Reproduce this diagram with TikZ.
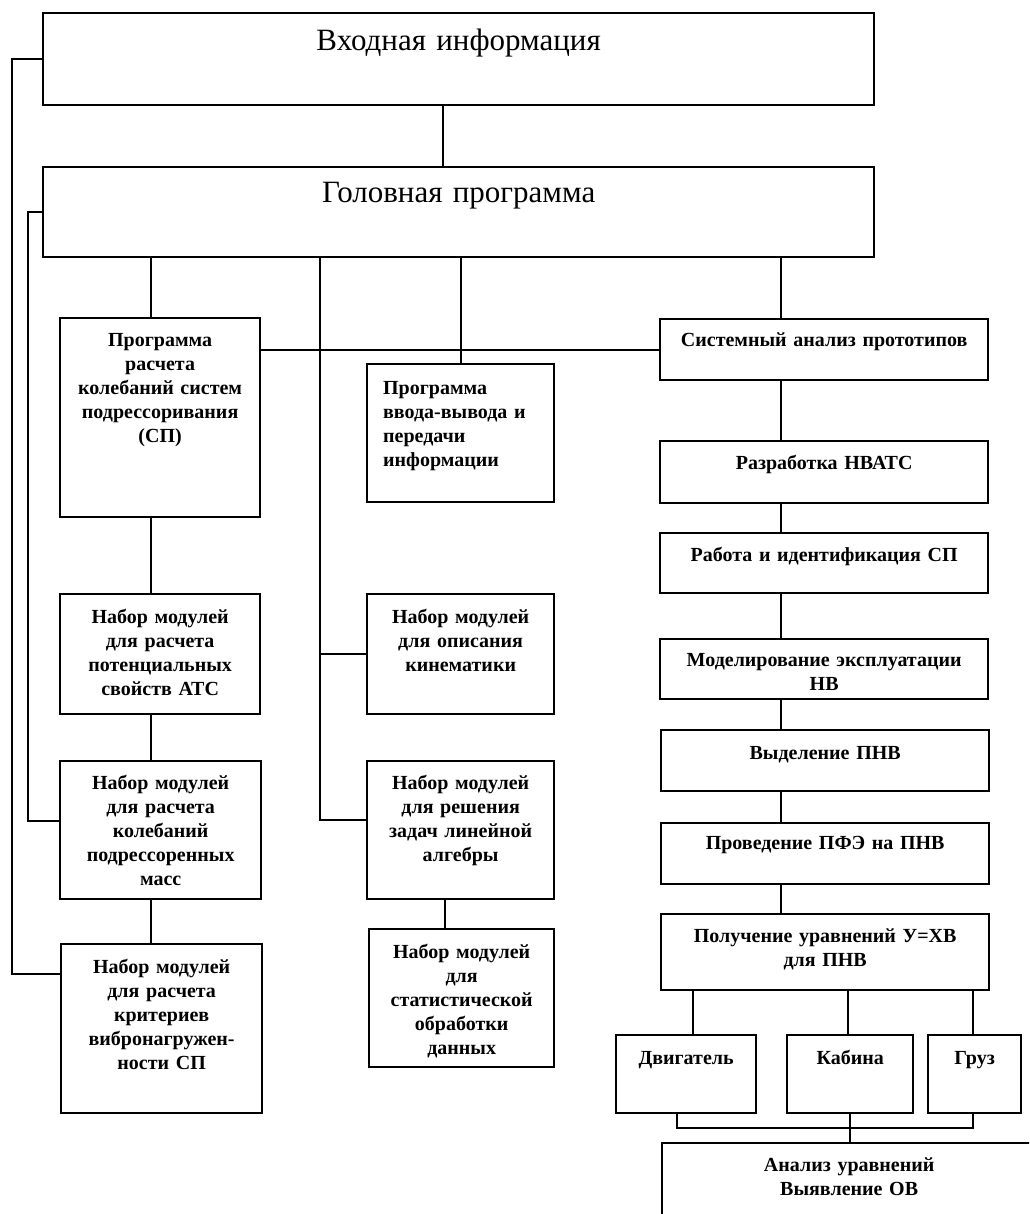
\documentclass[tikz,border=0pt]{standalone}
\usepackage{fontspec}
\setmainfont{Liberation Serif}
\usetikzlibrary{calc}

\tikzset{
  blk/.style={draw, line width=2.3pt, inner sep=0pt, anchor=north west, align=center,
    font=\bfseries\fontsize{20}{24}\selectfont},
  big/.style={blk, font=\fontsize{31}{36}\selectfont},
  wire/.style={line width=1.9pt}
}

\begin{document}
\begin{tikzpicture}[x=1pt,y=-1pt]
\useasboundingbox (0,0) rectangle (1029,1214);
\clip (0,0) rectangle (1029,1214);
% column lines
\coordinate (cI) at (443,0);
\coordinate (cA) at (151,0);
\coordinate (cB) at (320,0);
\coordinate (cM) at (445,0);
\coordinate (cD) at (781,0);
\coordinate (cE) at (693,0);
\coordinate (cK) at (848,0);
\coordinate (cL) at (973,0);
\coordinate (cF) at (677,0);

\node[big, text width=831pt, text height=37pt, text depth=55pt] (inp) at (42,12) {Входная информация};
\node[big, text width=831pt, text height=35pt, text depth=55pt] (head) at (42,166) {Головная программа};

% left column
\node[blk, text width=200pt, text height=28pt, text depth=171pt] (prog) at (59,317)
  {Программа\\расчета\\колебаний систем\\подрессоривания\\(СП)};
\node[blk, text width=200pt, text height=29pt, text depth=91pt] (pot) at (59,593)
  {Набор модулей\\для расчета\\потенциальных\\свойств АТС};
\node[blk, text width=201pt, text height=28pt, text depth=110pt] (mass) at (59,760)
  {Набор модулей\\для расчета\\колебаний\\подрессоренных\\масс};
\node[blk, text width=201pt, text height=29pt, text depth=140pt] (crit) at (60,943)
  {Набор модулей\\для расчета\\критериев\\вибронагружен-\\ности СП};

% middle column
\node[blk, align=left, inner xsep=16pt, text width=155pt, text height=30pt, text depth=108pt] (io) at (366,363)
  {Программа\\ввода-вывода и\\передачи\\информации};
\node[blk, text width=187pt, text height=29pt, text depth=91pt] (kin) at (366,593)
  {Набор модулей\\для описания\\кинематики};
\node[blk, text width=187pt, text height=28pt, text depth=110pt] (lin) at (366,760)
  {Набор модулей\\для решения\\задач линейной\\алгебры};
\node[blk, text width=185pt, text height=29pt, text depth=109pt] (stat) at (368,928)
  {Набор модулей\\для\\статистической\\обработки\\данных};

% right column
\node[blk, text width=328pt, text height=27pt, text depth=34pt] (sys) at (659,318) {Системный анализ прототипов};
\node[blk, text width=328pt, text height=28pt, text depth=34pt] (dev) at (659,440) {Разработка НВАТС};
\node[blk, text width=328pt, text height=28pt, text depth=32pt] (work) at (659,532) {Работа и идентификация СП};
\node[blk, text width=328pt, text height=27pt, text depth=33pt] (mod) at (659,638) {Моделирование эксплуатации\\НВ};
\node[blk, text width=328pt, text height=29pt, text depth=32pt] (sel) at (660,729) {Выделение ПНВ};
\node[blk, text width=328pt, text height=26pt, text depth=35pt] (pfe) at (660,822) {Проведение ПФЭ на ПНВ};
\node[blk, text width=328pt, text height=28pt, text depth=48pt] (eq) at (660,913) {Получение уравнений У=ХВ\\для ПНВ};
\node[blk, text width=140pt, text height=29pt, text depth=49pt] (eng) at (615,1034) {Двигатель};
\node[blk, text width=126pt, text height=29pt, text depth=49pt] (cab) at (786,1034) {Кабина};
\node[blk, text width=93pt, text height=29pt, text depth=49pt] (load) at (927,1034) {Груз};
\node[blk, text width=374pt, text height=28pt, text depth=112pt] (an) at (661,1142) {Анализ уравнений\\Выявление ОВ};

% connectors
\draw[wire] (inp.south -| cI) -- (head.north -| cI);
\draw[wire] (inp.west) -- ++(-30,0) |- ($(crit.north west)+(0,31)$);
\draw[wire] (head.west) -- ++(-14,0) |- ($(mass.north west)+(0,61)$);
\draw[wire] (head.south -| cA) -- (prog.north -| cA);
\draw[wire] (prog.south -| cA) -- (pot.north -| cA);
\draw[wire] (pot.south -| cA) -- (mass.north -| cA);
\draw[wire] (mass.south -| cA) -- (crit.north -| cA);
\draw[wire] (head.south -| cB) |- ($(lin.north west)+(0,60)$);
\draw[wire] (kin.west) -- (kin.west -| cB);
\draw[wire] (head.south -| io.north) -- (io.north);
\draw[wire] (lin.south -| cM) -- (stat.north -| cM);
\draw[wire] (sys.west) -- (sys.west -| prog.east);
\draw[wire] (head.south -| cD) -- (sys.north -| cD);
\foreach \a/\b in {sys/dev, dev/work, work/mod, mod/sel, sel/pfe, pfe/eq}
  \draw[wire] (\a.south -| cD) -- (\b.north -| cD);
\foreach \n/\c in {eng/cE, cab/cK, load/cL}
  \draw[wire] (eq.south -| \c) -- (\n.north -| \c);
\coordinate (j) at ($(cab.south)+(0,14)$);
\draw[wire] (eng.south -| cF) |- (j) -| (load.south -| cL);
\draw[wire] (cab.south) -- (an.north -| cab.south);
\end{tikzpicture}
\end{document}
